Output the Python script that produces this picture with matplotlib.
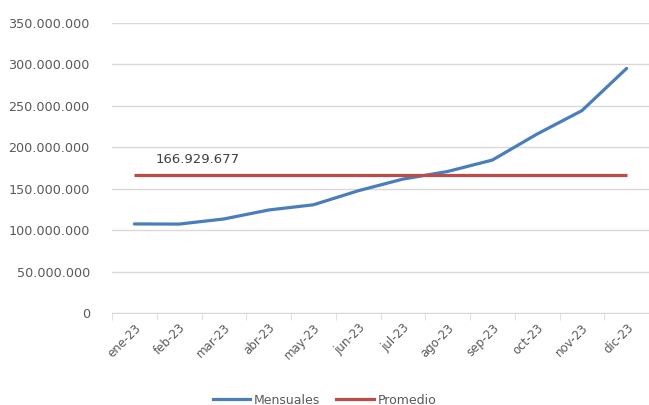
import numpy as np
import matplotlib.pyplot as plt
from matplotlib.ticker import FuncFormatter, FixedLocator
from matplotlib.lines import Line2D

meses = ['ene-23', 'feb-23', 'mar-23', 'abr-23', 'may-23', 'jun-23',
         'jul-23', 'ago-23', 'sep-23', 'oct-23', 'nov-23', 'dic-23']
mensuales = [107.5e6, 107.3e6, 113.5e6, 124.3e6, 130.6e6, 147.5e6,
             161.6e6, 170.8e6, 184.6e6, 216.0e6, 244.2e6, 295.2e6]
promedio = 166929677

def miles(v, pos=None):
    return f'{v:,.0f}'.replace(',', '.')

plt.rcParams['font.family'] = 'DejaVu Sans'
fig = plt.figure(figsize=(6.49, 4.05), dpi=100)
ax = fig.add_axes([112 / 649, 1 - 313 / 405, 537 / 649, 290 / 405])

x = np.arange(len(meses))
ax.plot(x, mensuales, color='#4a7ebb', lw=2.3, solid_capstyle='round')
ax.plot(x, [promedio] * len(x), color='#be4b48', lw=2.3, solid_capstyle='butt')
ax.text(0.48, promedio + 10e6, miles(promedio), fontsize=9.5, color='#404040', va='bottom')

ax.set_xlim(-0.5, len(meses) - 0.5)
ax.set_ylim(0, 350e6)
ax.set_yticks(np.arange(0, 350e6 + 1, 50e6))
ax.yaxis.set_major_formatter(FuncFormatter(miles))
ax.grid(axis='y', color='#d9d9d9', lw=1)
ax.set_axisbelow(True)

ax.set_xticks(x)
ax.set_xticklabels(meses, rotation=45, ha='right', rotation_mode='anchor')
ax.xaxis.set_minor_locator(FixedLocator(np.arange(-0.5, len(meses), 1)))
ax.tick_params(axis='x', which='major', length=0, pad=6, labelsize=8.5, labelcolor='#595959')
ax.tick_params(axis='x', which='minor', length=5, color='#d9d9d9', direction='out')
ax.tick_params(axis='y', length=0, pad=16, labelsize=9.2, labelcolor='#595959')

for s in ['top', 'right', 'left']:
    ax.spines[s].set_visible(False)
ax.spines['bottom'].set_color('#d9d9d9')

handles = [Line2D([], [], color='#4a7ebb', lw=2.3),
           Line2D([], [], color='#be4b48', lw=2.3)]
fig.legend(handles, ['Mensuales', 'Promedio'], loc='center', bbox_to_anchor=(0.5, 1 - 400 / 405),
           ncol=2, frameon=False, fontsize=9, handlelength=3.0, handletextpad=0.3,
           columnspacing=1.3, labelcolor='#595959')

fig.savefig('out.png', dpi=100)
